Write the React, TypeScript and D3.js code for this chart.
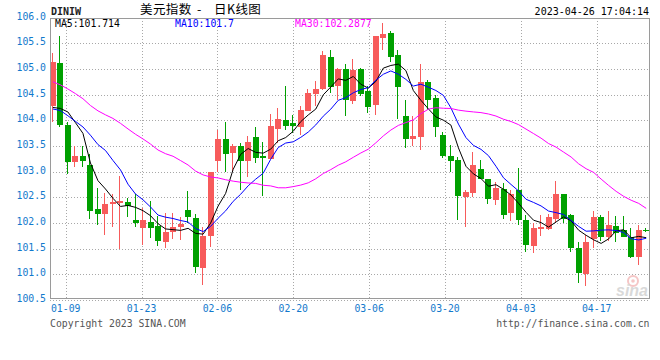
import React from 'react';
import * as d3 from 'd3';

// ---- data ----
const opens = [
  104.27, 105.11, 103.90, 103.19, 103.31, 103.13, 102.27, 102.17, 102.36, 102.38,
  102.41, 102.06, 101.91, 102.02, 101.95, 101.62, 101.82, 101.93, 102.25, 102.09,
  101.13, 101.75, 103.21, 103.64, 103.37, 103.49, 103.21, 103.68, 103.31, 103.24,
  103.84, 104.01, 103.94, 103.86, 104.19, 104.51, 104.61, 105.23, 104.67, 105.00,
  104.38, 105.00, 104.58, 104.30, 105.61, 105.70, 105.27, 104.08, 103.63, 103.68,
  104.75, 104.44, 103.71, 103.31, 103.23, 102.51, 102.59, 103.05, 102.86, 102.44,
  102.66, 102.19, 102.64, 102.06, 101.56, 101.89, 101.88, 102.08, 102.56, 102.16,
  101.52, 101.00, 101.69, 102.12, 101.73, 101.94, 101.86, 101.73, 101.34, 101.86,
];
const highs = [
  105.31, 105.64, 103.97, 103.50, 103.50, 103.34, 102.68, 102.58, 102.56, 102.92,
  102.48, 102.56, 102.29, 102.43, 102.14, 102.20, 102.20, 102.11, 102.62, 102.18,
  101.92, 103.00, 103.81, 103.96, 103.53, 103.55, 103.69, 103.86, 103.57, 104.12,
  104.24, 104.67, 104.10, 104.27, 104.60, 104.77, 105.34, 105.37, 105.01, 105.10,
  105.19, 105.01, 104.67, 105.64, 105.89, 105.74, 105.37, 104.40, 104.08, 105.10,
  104.79, 104.49, 103.78, 103.52, 103.29, 102.64, 103.38, 103.23, 102.86, 102.79,
  102.77, 102.64, 103.08, 102.16, 102.00, 102.16, 102.17, 102.82, 102.56, 102.18,
  101.62, 101.77, 102.23, 102.16, 102.23, 102.14, 102.14, 101.90, 101.96, 101.90,
];
const lows = [
  103.97, 103.86, 102.95, 103.10, 103.10, 102.08, 101.96, 101.77, 101.93, 101.50,
  102.11, 101.93, 101.58, 101.71, 101.56, 101.51, 101.68, 101.67, 102.00, 101.03,
  100.79, 101.54, 103.00, 103.00, 103.00, 102.64, 102.90, 103.16, 102.53, 103.24,
  103.55, 103.82, 103.75, 103.71, 104.19, 104.27, 104.59, 104.54, 104.40, 104.08,
  104.32, 104.48, 104.15, 104.10, 105.37, 105.14, 104.03, 103.47, 103.49, 103.42,
  104.20, 103.68, 103.26, 103.00, 102.05, 101.92, 102.50, 102.86, 102.37, 102.35,
  102.07, 102.04, 101.96, 101.44, 101.41, 101.75, 101.86, 102.00, 102.00, 101.43,
  100.84, 100.77, 101.51, 101.64, 101.64, 101.62, 101.73, 101.31, 101.18, 101.82,
];
const closes = [
  105.13, 103.90, 103.18, 103.31, 103.21, 102.24, 102.18, 102.37, 102.40, 102.42,
  102.34, 101.99, 102.05, 101.91, 101.64, 101.83, 101.92, 101.98, 102.11, 101.15,
  101.75, 103.00, 103.64, 103.34, 103.49, 103.21, 103.57, 103.27, 103.26, 103.88,
  104.03, 103.88, 103.88, 104.20, 104.53, 104.60, 105.27, 104.64, 104.99, 104.39,
  104.98, 104.51, 104.26, 105.64, 105.69, 105.24, 104.64, 103.63, 103.69, 104.75,
  104.40, 103.86, 103.31, 103.21, 102.53, 102.61, 103.12, 102.86, 102.46, 102.68,
  102.16, 102.56, 102.06, 101.58, 101.91, 101.93, 102.12, 102.56, 102.08, 101.52,
  101.02, 101.62, 102.12, 101.73, 101.96, 101.80, 101.73, 101.34, 101.86, 101.84,
];
// closes before the first visible candle (needed for the moving averages)
const priorCloses = [
  105.7, 105.6, 106.0, 106.2, 106.2, 105.3, 104.7, 104.5, 105.3, 105.6,
  105.1, 104.8, 104.9, 105.1, 104.0, 103.4, 104.5, 104.7, 104.7, 104.0,
  104.2, 104.2, 104.4, 104.3, 103.85, 104.0, 103.52, 104.35, 104.25,
];
const yTicks = [106.0, 105.5, 105.0, 104.5, 104.0, 103.5, 103.0, 102.5, 102.0, 101.5, 101.0, 100.5];
const xTickLabels = ['01-09', '01-23', '02-06', '02-20', '03-06', '03-20', '04-03', '04-17'];
const maPeriods = [5, 10, 30];
const maLabels = ['MA5:101.714', 'MA10:101.7', 'MA30:102.2877'];
const titleParts = ['美元指数', '-', '日K线图'];

// ---- layout ----
const W = 660, H = 360;
const L = 50, R = 649.5, T = 18, B = 298;
const UP = '#f75b5b', DOWN = '#00a000';
const MA_COLORS = ['#000000', '#0000ff', '#ff00ff'];
const AXIS_BLUE = '#1279cc';
const MONO = '"DejaVu Sans Mono", "Liberation Mono", monospace';
const CJK = '"Noto Sans CJK SC", sans-serif';

const x = d3.scaleLinear().domain([0, closes.length - 1]).range([52.9, 646.2]);
const y = d3.scaleLinear().domain([100.5, 106]).range([300, 17.6]);
const gx = d3.scaleLinear().domain([0, xTickLabels.length - 1]).range([65.7, 596.7]);

function movingAverage(n: number): number[] {
  const all = priorCloses.concat(closes);
  const p = priorCloses.length;
  return closes.map((_, i) => d3.mean(all.slice(p + i - n + 1, p + i + 1)) as number);
}

export default function App() {
  const line = d3.line<number>().x((_, i) => x(i)).y((d) => y(d));
  const mas = maPeriods.map(movingAverage);

  return (
    <svg width={W} height={H} style={{ position: 'fixed', left: 0, top: 0, background: '#fff' }}>
      <rect x={0} y={0} width={W} height={H} fill="#fff" />
      {/* horizontal grid */}
      {yTicks.map((v) => (
        <line key={'h' + v} x1={L} x2={R} y1={Math.round(y(v)) + 0.5} y2={Math.round(y(v)) + 0.5}
          stroke="#a8a8a8" strokeDasharray="1,2" shapeRendering="crispEdges" />
      ))}
      {/* vertical grid */}
      {xTickLabels.map((t, k) => (
        <line key={'v' + t} x1={Math.round(gx(k)) + 0.5} x2={Math.round(gx(k)) + 0.5} y1={T} y2={B}
          stroke="#a8a8a8" strokeDasharray="1,2" shapeRendering="crispEdges" />
      ))}

      {/* watermark */}
      <g opacity={0.55}>
        <circle cx={633} cy={281} r={5} fill="none" stroke="#e99" strokeWidth={2} />
        <circle cx={633} cy={281} r={1.8} fill="#e99" />
        <text x={648} y={296} textAnchor="end" fontFamily="Arial, Liberation Sans, sans-serif"
          fontStyle="italic" fontWeight="bold" fontSize={16} fill="#bbb">sina</text>
      </g>

      {/* candles */}
      {closes.map((c, i) => {
        const o = opens[i];
        const up = c >= o;
        const color = up ? UP : DOWN;
        const cx = Math.round(x(i));
        const top = Math.round(y(Math.max(o, c)));
        const bot = Math.round(y(Math.min(o, c)));
        return (
          <g key={i} shapeRendering="crispEdges">
            <rect x={cx - 1} y={Math.round(y(highs[i]))} width={1}
              height={Math.max(1, Math.round(y(lows[i])) - Math.round(y(highs[i])))} fill={color} />
            <rect x={cx - 3} y={top} width={6} height={Math.max(1, bot - top)} fill={color} />
          </g>
        );
      })}

      {/* moving averages */}
      {mas.map((m, k) => (
        <path key={'ma' + k} d={line(m) || ''} fill="none" stroke={MA_COLORS[k]} strokeWidth={1} />
      ))}

      {/* frame */}
      <rect x={L} y={T} width={R - L} height={B - T} fill="none" stroke="#9a9a9a" strokeWidth={1}
        shapeRendering="crispEdges" />

      {/* y labels */}
      {yTicks.map((v) => (
        <text key={'yl' + v} x={46} y={y(v) + 2} textAnchor="end" fontFamily={MONO} fontSize={9.8}
          fill={AXIS_BLUE}>{v.toFixed(1)}</text>
      ))}
      {/* x labels */}
      {xTickLabels.map((t, k) => (
        <text key={'xl' + t} x={gx(k)} y={312} textAnchor="middle" fontFamily={MONO} fontSize={9.8}
          fill={AXIS_BLUE}>{t}</text>
      ))}

      {/* header */}
      <text x={51} y={15} fontFamily={MONO} fontWeight="bold" fontSize={10} fill="#222">DINIW</text>
      <text x={140} y={14} fontFamily={CJK} fontSize={12.5} fill="#000" letterSpacing={0.4}>{titleParts[0]}</text>
      <text x={197} y={14} fontFamily={CJK} fontSize={12.5} fill="#000">{titleParts[1]}</text>
      <text x={214} y={14} fontFamily={CJK} fontSize={12.5} fill="#000" letterSpacing={0.4}>{titleParts[2]}</text>
      <text x={649} y={15} textAnchor="end" fontFamily={MONO} fontSize={10} fill="#000">2023-04-26 17:04:14</text>
      {maLabels.map((t, k) => (
        <text key={t} x={55 + k * 120} y={27} fontFamily={MONO} fontSize={9.8} fill={MA_COLORS[k]}>{t}</text>
      ))}

      {/* footer */}
      <text x={50} y={327} fontFamily={MONO} fontSize={9.8} fill="#555">Copyright 2023 SINA.COM</text>
      <text x={649.5} y={327} textAnchor="end" fontFamily={MONO} fontSize={9.8} fill="#555">http://finance.sina.com.cn</text>
    </svg>
  );
}
